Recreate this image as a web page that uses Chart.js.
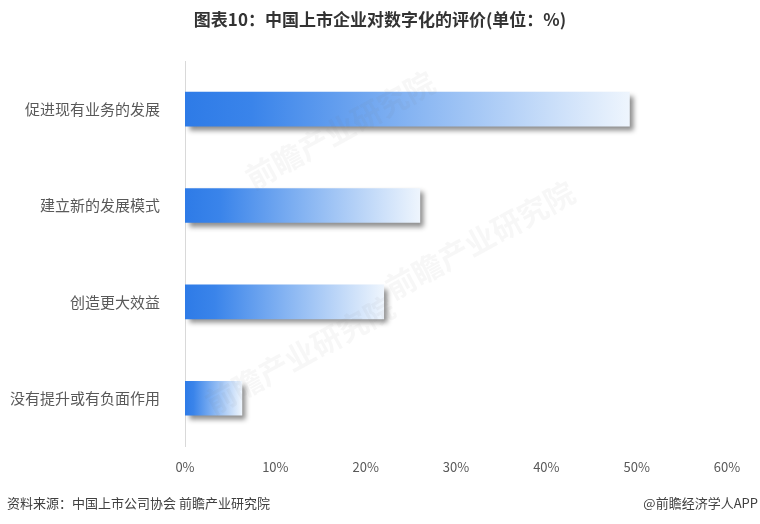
<!DOCTYPE html>
<html>
<head>
<meta charset="utf-8">
<script src="https://cdn.jsdelivr.net/npm/chart.js@4.4.0/dist/chart.umd.min.js"></script>
<style>
  html, body { margin: 0; padding: 0; background: #fff; }
  #wrap { width: 760px; height: 524px; }
</style>
</head>
<body>
<div id="wrap"><canvas id="chart" width="760" height="524"></canvas></div>
<script>
const categories = ['促进现有业务的发展', '建立新的发展模式', '创造更大效益', '没有提升或有负面作用'];
const shares = [49.2, 26.0, 22.0, 6.3];
const tickValues = [0, 10, 20, 30, 40, 50, 60];

const titleText = '图表10：中国上市企业对数字化的评价(单位：%)';
const sourceText = '资料来源：中国上市公司协会 前瞻产业研究院';
const brandText = '@前瞻经济学人APP';
const FONT = '"Noto Sans CJK SC", "Noto Sans", sans-serif';

// each bar gets its own blue -> white gradient
function barGradient(context) {
    const chart = context.chart;
    const xScale = chart.scales.x;
    if (!xScale || context.raw == null) return '#2f7de8';
    const x0 = xScale.getPixelForValue(0);
    const x1 = xScale.getPixelForValue(context.raw);
    if (!isFinite(x0) || !isFinite(x1) || x1 <= x0) return '#2f7de8';
    const g = chart.ctx.createLinearGradient(x0, 0, x1, 0);
    g.addColorStop(0, '#2e7be7');
    g.addColorStop(0.15, '#3a84ea');
    g.addColorStop(0.5, '#84b3f2');
    g.addColorStop(1, '#eef5fd');
    return g;
}

const shadowPlugin = {
    id: 'barShadow',
    beforeDatasetsDraw(chart) {
        const ctx = chart.ctx;
        ctx.save();
        ctx.shadowColor = 'rgba(0, 0, 0, 0.45)';
        ctx.shadowBlur = 5;
        ctx.shadowOffsetX = 4;
        ctx.shadowOffsetY = 4;
    },
    afterDatasetsDraw(chart) {
        chart.ctx.restore();
    }
};

const textPlugin = {
    id: 'pageText',
    afterDraw(chart) {
        const ctx = chart.ctx;
        ctx.save();

        // faint watermarks
        ctx.fillStyle = 'rgba(120, 120, 120, 0.06)';
        ctx.font = 'bold 30px ' + FONT;
        ctx.textAlign = 'center';
        ctx.textBaseline = 'middle';
        [[340, 130], [480, 240], [300, 355]].forEach(([wx, wy]) => {
            ctx.save();
            ctx.translate(wx, wy);
            ctx.rotate(-0.5);
            ctx.fillText('前瞻产业研究院', 0, 0);
            ctx.restore();
        });

        // title
        ctx.fillStyle = '#333333';
        ctx.font = 'bold 17px ' + FONT;
        ctx.textAlign = 'center';
        ctx.textBaseline = 'middle';
        ctx.fillText(titleText, 380, 20);

        // footer
        ctx.fillStyle = '#404040';
        ctx.font = '13px ' + FONT;
        ctx.textAlign = 'left';
        ctx.fillText(sourceText, 7, 503);
        ctx.textAlign = 'right';
        ctx.fillText(brandText, 758, 503);

        ctx.restore();
    }
};

new Chart(document.getElementById('chart'), {
    type: 'bar',
    data: {
        labels: categories,
        datasets: [{
            data: shares,
            backgroundColor: barGradient,
            borderWidth: 0,
            barThickness: 34
        }]
    },
    options: {
        indexAxis: 'y',
        responsive: false,
        animation: false,
        devicePixelRatio: 1,
        layout: { padding: { top: 61, right: 33, bottom: 44, left: 0 } },
        plugins: {
            legend: { display: false },
            tooltip: { enabled: false },
            title: { display: false }
        },
        scales: {
            y: {
                grid: { display: false },
                border: { display: true, color: '#d9d9d9', width: 1 },
                ticks: { color: '#595959', font: { size: 15, family: FONT }, padding: 17 },
                afterFit(scale) { scale.width = 185; }
            },
            x: {
                min: 0,
                max: 60,
                afterBuildTicks(scale) {
                    scale.ticks = tickValues.map(v => ({ value: v }));
                },
                grid: { display: false },
                border: { display: false },
                ticks: {
                    color: '#595959',
                    font: { size: 13, family: FONT },
                    padding: 5,
                    callback: v => v + '%'
                }
            }
        }
    },
    plugins: [shadowPlugin, textPlugin]
});
</script>
</body>
</html>
